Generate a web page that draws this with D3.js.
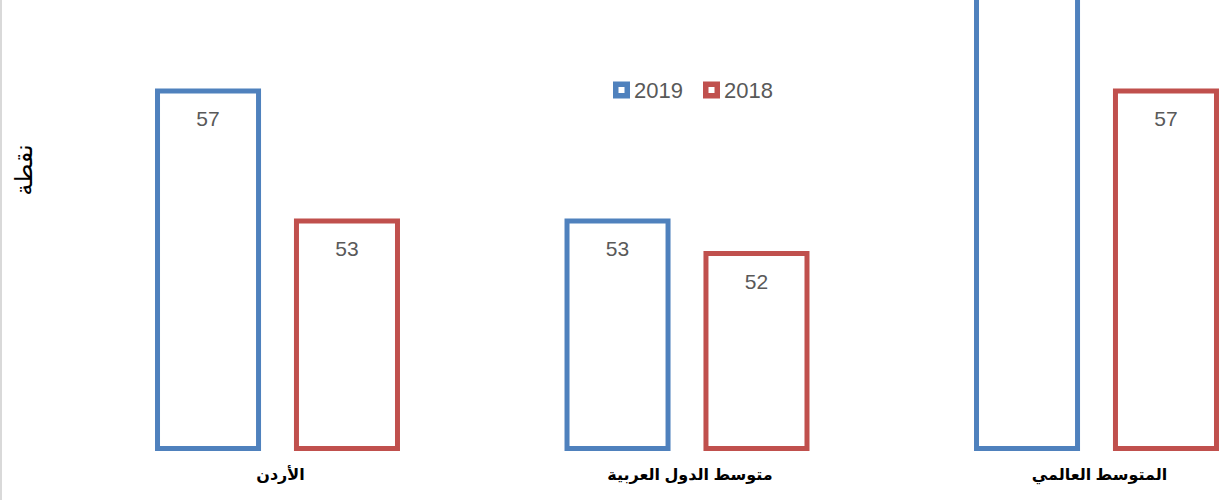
<!DOCTYPE html>
<html>
<head>
<meta charset="utf-8">
<script src="https://cdn.jsdelivr.net/npm/d3@7"></script>
<style>
  html, body { margin: 0; padding: 0; background: #fff; overflow: hidden; }
  svg { display: block; font-family: "Liberation Sans", Arial, "DejaVu Sans", sans-serif; }
</style>
</head>
<body>
<div class="chart"></div>
<script>
// categories and series
var categories = ["الأردن", "متوسط الدول العربية", "المتوسط العالمي"];
var seriesNames = ["2019", "2018"];
var seriesColors = ["#4F81BD", "#C0504D"];
var values2019 = [57, 53, 62];
var values2018 = [53, 52, 57];
var yTitle = "نقطة";

var width = 1219, height = 500;

var svg = d3.select(".chart").append("svg")
  .attr("width", width)
  .attr("height", height);

// light frame line on the left
svg.append("line")
  .attr("x1", 1).attr("x2", 1)
  .attr("y1", 0).attr("y2", height)
  .attr("stroke", "#d9d9d9")
  .attr("stroke-width", 2);

var x0 = d3.scaleBand()
  .domain(categories)
  .range([72.75, 1301.25]);

var x1 = d3.scaleBand()
  .domain(seriesNames)
  .range([0, x0.bandwidth()])
  .paddingInner(0.273)
  .paddingOuter(0.61);

var y = d3.scaleLinear()
  .domain([46, 60])
  .range([448.5, -6.5]);

var rows = categories.map(function(c, i) {
  return { cat: c, vals: [values2019[i], values2018[i]] };
});

var groups = svg.selectAll("g.cat").data(rows).enter().append("g")
  .attr("class", "cat")
  .attr("transform", function(d) { return "translate(" + x0(d.cat) + ",0)"; });

var bars = groups.selectAll("g.bar")
  .data(function(d) {
    return seriesNames.map(function(s, j) { return { s: s, v: d.vals[j], color: seriesColors[j] }; });
  })
  .enter().append("g").attr("class", "bar");

bars.append("rect")
  .attr("x", function(d) { return x1(d.s); })
  .attr("width", x1.bandwidth())
  .attr("y", function(d) { return y(d.v); })
  .attr("height", function(d) { return y(46) - y(d.v); })
  .attr("fill", "#fff")
  .attr("stroke", function(d) { return d.color; })
  .attr("stroke-width", 5);

// value labels (the one above the picture stays hidden, as in the original)
bars.filter(function(d) { return y(d.v) + 34 > 20; })
  .append("text")
  .attr("x", function(d) { return x1(d.s) + x1.bandwidth() / 2; })
  .attr("y", function(d) { return y(d.v) + 35; })
  .attr("text-anchor", "middle")
  .attr("font-size", 21)
  .attr("fill", "#595959")
  .text(function(d) { return d.v; });

// category labels
groups.append("text")
  .attr("x", x0.bandwidth() / 2 + 3)
  .attr("y", 480)
  .attr("text-anchor", "middle")
  .attr("direction", "rtl")
  .attr("font-size", 16)
  .attr("font-weight", "bold")
  .attr("fill", "#000")
  .text(function(d) { return d.cat; });

// y axis title
svg.append("text")
  .attr("transform", "translate(32,170) rotate(-90)")
  .attr("text-anchor", "middle")
  .attr("direction", "rtl")
  .attr("font-size", 24)
  .attr("fill", "#000")
  .text(yTitle);

// legend
var legend = svg.append("g").attr("transform", "translate(613,90)");
var legendX = [0, 90];
seriesNames.forEach(function(s, i) {
  var g = legend.append("g").attr("transform", "translate(" + legendX[i] + ",0)");
  g.append("rect")
    .attr("x", 2.75).attr("y", -5.75)
    .attr("width", 11.5).attr("height", 11.5)
    .attr("fill", "#fff")
    .attr("stroke", seriesColors[i])
    .attr("stroke-width", 5.5);
  g.append("text")
    .attr("x", 21).attr("y", 8)
    .attr("font-size", 22)
    .attr("fill", "#595959")
    .text(s);
});
</script>
</body>
</html>
